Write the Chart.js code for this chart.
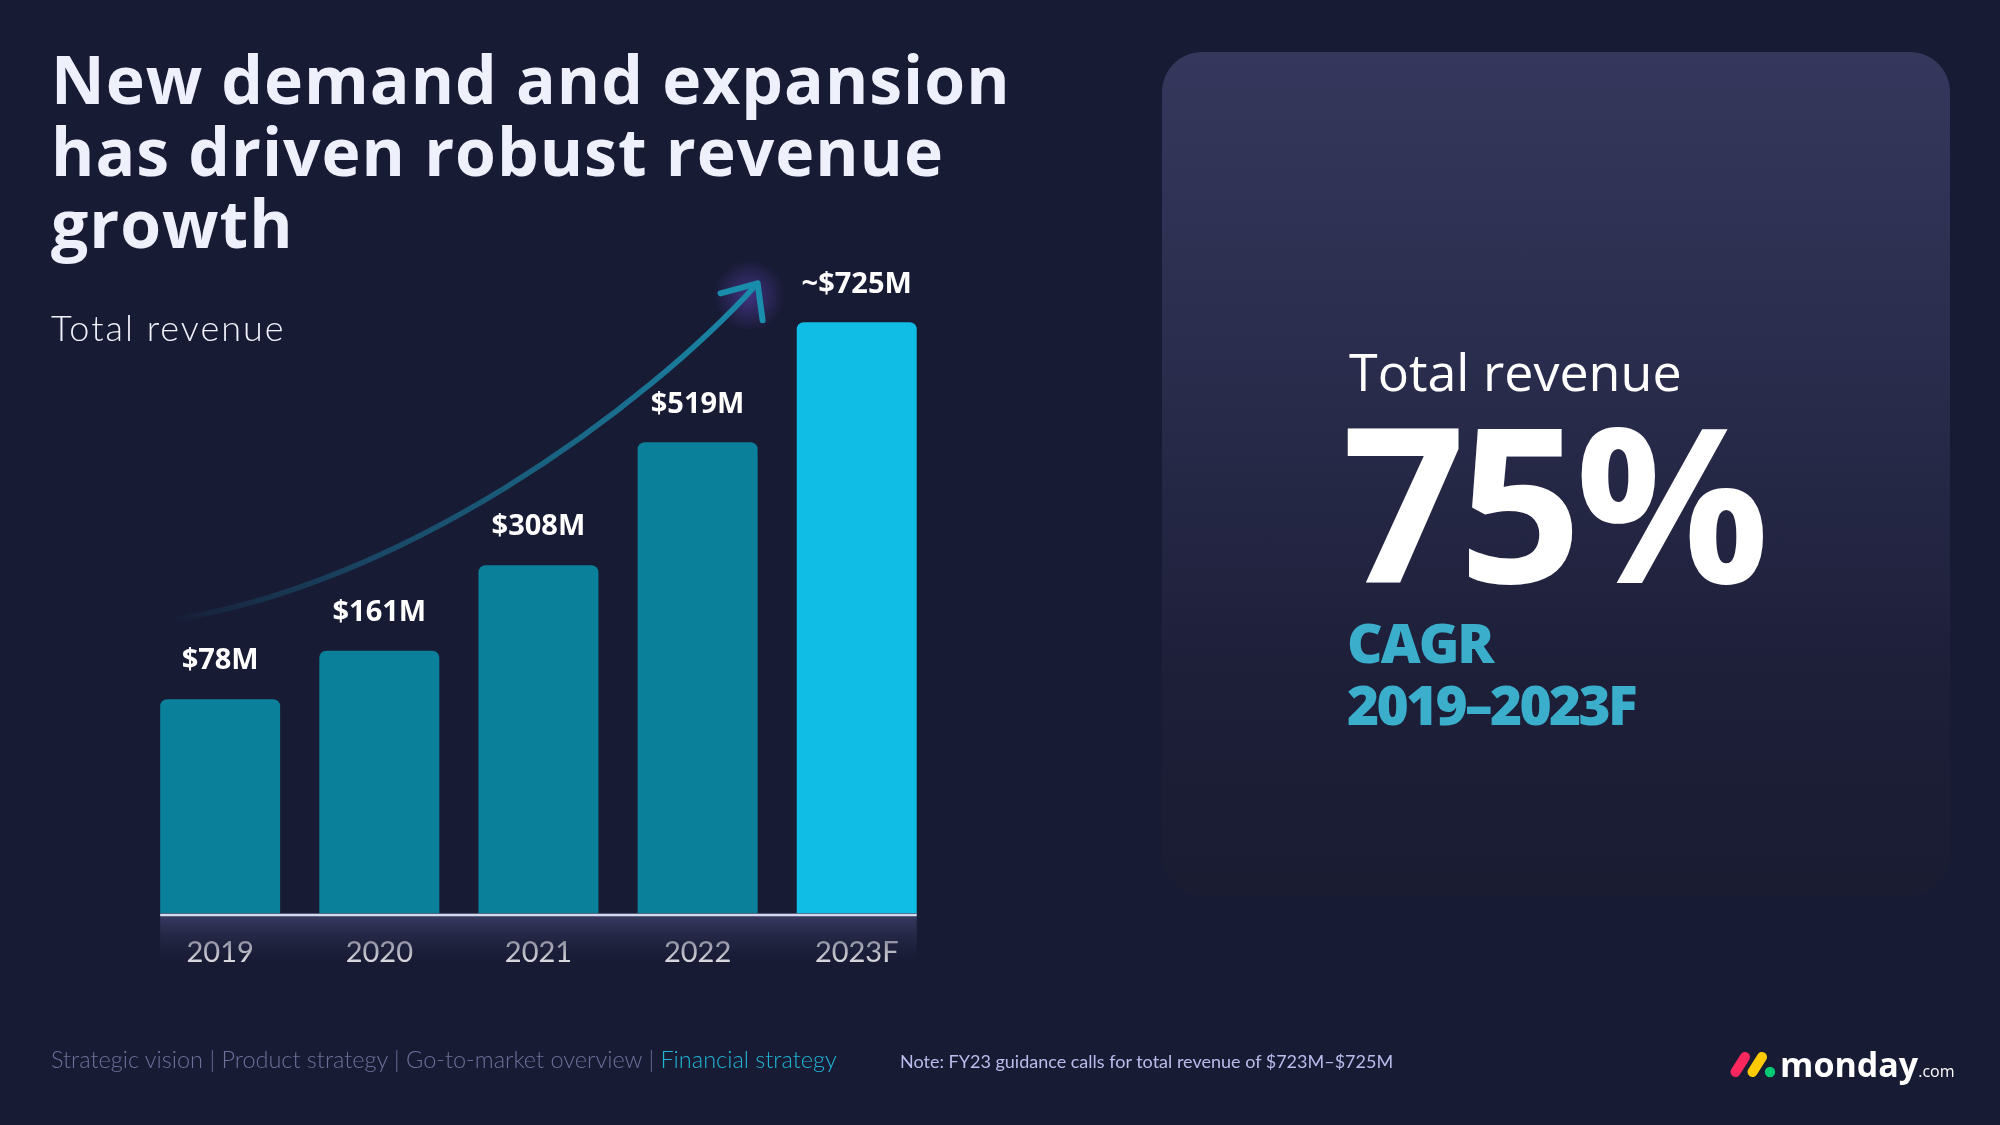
<!DOCTYPE html>
<html><head><meta charset="utf-8">
<script src="https://cdn.jsdelivr.net/npm/chart.js@4.4.0/dist/chart.umd.min.js"></script>
<style>
html,body{margin:0;padding:0;background:#181b34;}
#stage{position:relative;width:2000px;height:1125px;overflow:hidden;background:#181b34;font-family:'Open Sans',sans-serif;}
.abs{position:absolute;white-space:nowrap;line-height:1;}
#panel{position:absolute;left:1162px;top:52px;width:788px;height:843px;border-radius:40px;background:linear-gradient(180deg,#35385c 0%,#2a2d4d 35%,#1d1f39 75%,#1a1c32 100%);}
#c{position:absolute;left:0;top:0;width:2000px;height:1125px;}
</style></head>
<body><div id="stage">
<div id="panel"></div>
<canvas id="c" width="2000" height="1125"></canvas>
<div class="abs" style="left:51px;top:42px;font-family:'Open Sans';font-weight:700;font-size:66px;letter-spacing:1px;line-height:72px;color:#eef0fb;white-space:normal;width:1100px;">New demand and expansion<br>has driven robust revenue<br>growth</div>
<div class="abs" style="left:51px;top:309px;font-family:Lato;font-weight:300;font-size:36px;letter-spacing:2px;color:#f0f1fa;">Total revenue</div>
<div class="abs" style="left:1349px;top:345px;font-family:'Open Sans';font-weight:400;font-size:52px;color:#ffffff;">Total revenue</div>
<div class="abs" style="left:1342px;top:391px;font-family:'Open Sans';font-weight:700;font-size:216px;letter-spacing:-7px;color:#ffffff;">75%</div>
<div class="abs" style="left:1347px;top:614px;font-family:'Open Sans';font-weight:800;font-size:55px;letter-spacing:-2px;color:#3aaecb;">CAGR</div>
<div class="abs" style="left:1347px;top:676px;font-family:'Open Sans';font-weight:800;font-size:55px;letter-spacing:-2.7px;color:#3aaecb;">2019–2023F</div>
<div class="abs" style="left:51px;top:1048px;font-family:Lato;font-weight:300;font-size:23.5px;color:#6d7099;">Strategic vision | Product strategy | Go-to-market overview | <span style="color:#22b5d6">Financial strategy</span></div>
<div class="abs" style="left:900px;top:1052px;font-family:Lato;font-weight:400;font-size:18px;color:#b9bcec;">Note: FY23 guidance calls for total revenue of $723M–$725M</div>
<svg style="position:absolute;left:1720px;top:1040px;" width="60" height="45">
  <line x1="15.5" y1="32" x2="25" y2="17" stroke="#fb275d" stroke-width="10" stroke-linecap="round"/>
  <line x1="32.5" y1="32" x2="42" y2="17" stroke="#ffcb00" stroke-width="10" stroke-linecap="round"/>
  <circle cx="50" cy="32" r="5.2" fill="#00ca72"/>
</svg>
<div class="abs" style="left:1780px;top:1047px;font-family:'Open Sans';font-weight:700;font-size:34px;color:#ffffff;">monday<span style="font-weight:400;font-size:16px;">.com</span></div>
</div>
<script>
// ---- data ----
const categories = ['2019', '2020', '2021', '2022', '2023F'];
const revenue = [78, 161, 308, 519, 725];           // $M
const isForecast = [false, false, false, false, true];
const yMin = -290, yMax = 935;

const barColors = isForecast.map(f => f ? '#10bde5' : '#0b809a');

const bandPlugin = {
  id: 'band',
  beforeDatasetsDraw(chart) {
    const {ctx} = chart;
    const meta = chart.getDatasetMeta(0);
    const first = meta.data[0], last = meta.data[meta.data.length - 1];
    const l = first.x - first.width / 2, r = last.x + last.width / 2;
    const b = chart.chartArea.bottom;
    ctx.save();
    const g = ctx.createLinearGradient(0, b, 0, b + 58);
    g.addColorStop(0, 'rgba(58,61,100,1)');
    g.addColorStop(1, 'rgba(24,27,52,0)');
    ctx.fillStyle = g;
    ctx.fillRect(l, b, r - l, 58);
    ctx.restore();
  },
  afterDatasetsDraw(chart) {
    const {ctx} = chart;
    const meta = chart.getDatasetMeta(0);
    const first = meta.data[0], last = meta.data[meta.data.length - 1];
    const l = first.x - first.width / 2, r = last.x + last.width / 2;
    const b = chart.chartArea.bottom;
    ctx.save();
    ctx.strokeStyle = '#d5d9ee';
    ctx.lineWidth = 2.5;
    ctx.beginPath(); ctx.moveTo(l, b + 1.5); ctx.lineTo(r, b + 1.5); ctx.stroke();
    // value labels
    ctx.fillStyle = '#ffffff';
    ctx.font = '700 29px "Open Sans"';
    ctx.textAlign = 'center';
    ctx.textBaseline = 'middle';
    meta.data.forEach((bar, i) => {
      const txt = (isForecast[i] ? '~' : '') + '$' + revenue[i] + 'M';
      ctx.fillText(txt, bar.x, bar.y - 38);
    });
    ctx.restore();
  }
};

const arrowPlugin = {
  id: 'arrow',
  beforeDatasetsDraw(chart) {
    const {ctx} = chart;
    const meta = chart.getDatasetMeta(0);
    const b0 = meta.data[0], b3 = meta.data[3], b4 = meta.data[4];
    const p0 = {x: b0.x - 57, y: b0.y - 78};
    const p3 = {x: b3.x + 60, y: b4.y - 39};
    const p1 = {x: p0.x + 237, y: p0.y - 33};
    const p2 = {x: p3.x - 113, y: p3.y + 125};
    ctx.save();
    // glow at tip
    const cx = p3.x - 8, cy = p3.y + 12;
    const rg = ctx.createRadialGradient(cx, cy, 0, cx, cy, 36);
    rg.addColorStop(0, 'rgba(110,80,220,0.45)');
    rg.addColorStop(0.6, 'rgba(110,80,220,0.18)');
    rg.addColorStop(1, 'rgba(110,80,220,0)');
    ctx.fillStyle = rg;
    ctx.beginPath(); ctx.arc(cx, cy, 36, 0, Math.PI * 2); ctx.fill();
    const lg = ctx.createLinearGradient(p0.x, p0.y, p3.x, p3.y);
    lg.addColorStop(0, 'rgba(26,135,168,0)');
    lg.addColorStop(0.35, 'rgba(26,115,150,0.55)');
    lg.addColorStop(1, 'rgba(26,140,172,1)');
    ctx.strokeStyle = lg;
    ctx.lineWidth = 5.5;
    ctx.lineCap = 'round';
    ctx.beginPath();
    ctx.moveTo(p0.x, p0.y);
    ctx.bezierCurveTo(p1.x, p1.y, p2.x, p2.y, p3.x, p3.y);
    ctx.stroke();
    ctx.strokeStyle = '#1a8cac';
    ctx.lineWidth = 6;
    ctx.lineJoin = 'round';
    ctx.beginPath();
    ctx.moveTo(p3.x - 37, p3.y + 10);
    ctx.lineTo(p3.x, p3.y);
    ctx.lineTo(p3.x + 5, p3.y + 37);
    ctx.stroke();
    ctx.restore();
  }
};

new Chart(document.getElementById('c'), {
  type: 'bar',
  data: {
    labels: categories,
    datasets: [{
      data: revenue,
      base: yMin,
      backgroundColor: barColors,
      borderRadius: {topLeft: 7, topRight: 7, bottomLeft: 0, bottomRight: 0},
      borderSkipped: 'bottom',
      barPercentage: 0.754,
      categoryPercentage: 1
    }]
  },
  options: {
    responsive: false,
    animation: false,
    devicePixelRatio: 1,
    layout: {padding: {left: 140.6, right: 1063.7, top: 200, bottom: 151.5}},
    plugins: {legend: {display: false}, tooltip: {enabled: false}},
    scales: {
      x: {
        grid: {display: false, drawTicks: false},
        border: {display: false},
        ticks: {color: '#ffffff', font: {family: 'Lato', size: 29, weight: 400}, padding: 22},
        afterFit: (s) => { s.height = 60; }
      },
      y: {display: false, min: yMin, max: yMax}
    }
  },
  plugins: [bandPlugin, arrowPlugin]
});
</script>
</body></html>
